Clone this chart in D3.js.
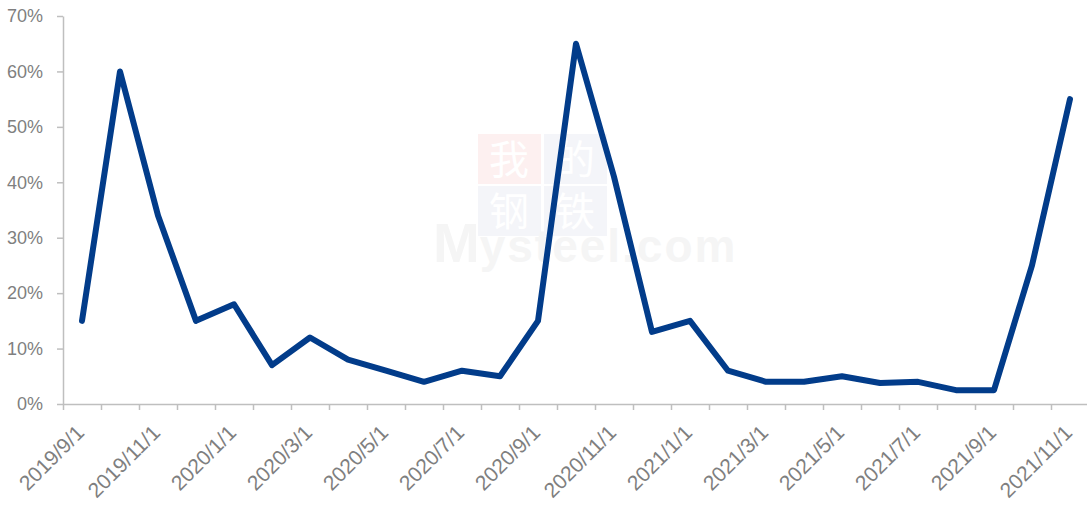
<!DOCTYPE html>
<html>
<head>
<meta charset="utf-8">
<script src="https://cdn.jsdelivr.net/npm/d3@7"></script>
<style>
	body { margin: 0; background: #fff; }
	svg { display: block; font-family: "Liberation Sans", Arial, sans-serif; }
	.axis text { fill: #7f7f7f; font-size: 18px; }
	.axis.x text { font-size: 21px; }
	.axis path, .axis line { stroke: #bfbfbf; stroke-width: 1.5; }
</style>
</head>
<body>
<svg id="chart" width="1087" height="510"></svg>
<script>
// monthly categories (first day of each month)
var months = ["2019/9/1", "2019/10/1", "2019/11/1", "2019/12/1",
	"2020/1/1", "2020/2/1", "2020/3/1", "2020/4/1", "2020/5/1", "2020/6/1",
	"2020/7/1", "2020/8/1", "2020/9/1", "2020/10/1", "2020/11/1", "2020/12/1",
	"2021/1/1", "2021/2/1", "2021/3/1", "2021/4/1", "2021/5/1", "2021/6/1",
	"2021/7/1", "2021/8/1", "2021/9/1", "2021/10/1", "2021/11/1"];

// series values, in percent
var values = [15, 60, 34, 15, 18, 7, 12, 8, 6, 4, 6, 5, 15, 65, 41, 13,
	15, 6, 4, 4, 5, 3.8, 4, 2.5, 2.5, 25, 55];

var yTicks = [0, 0.1, 0.2, 0.3, 0.4, 0.5, 0.6, 0.7];

var svg = d3.select("#chart");

var plot = { left: 63, right: 1089, top: 16, bottom: 404 };

// x is a month index: ticks on the month boundaries, points in the middle
var x = d3.scaleLinear()
	.domain([0, months.length])
	.range([plot.left, plot.right]);

var y = d3.scaleLinear()
	.domain([0, 0.7])
	.range([plot.bottom, plot.top]);

// faint watermark behind the chart
var wm = svg.append("g").attr("class", "watermark");
var squares = [
	{ ch: "我", col: 0, row: 0, fill: "#fdf0f0" },
	{ ch: "的", col: 1, row: 0, fill: "#f4f5f9" },
	{ ch: "钢", col: 0, row: 1, fill: "#f4f5f9" },
	{ ch: "铁", col: 1, row: 1, fill: "#f4f5f9" }
];
squares.forEach(function(s) {
	var sx = 478 + s.col * 66, sy = 134 + s.row * 52;
	wm.append("rect").attr("x", sx).attr("y", sy).attr("width", 63).attr("height", 50).attr("fill", s.fill);
	wm.append("text").attr("x", sx + 31).attr("y", sy + 40)
		.attr("text-anchor", "middle")
		.style("font-family", "'Noto Sans CJK SC', sans-serif")
		.style("font-size", "40px")
		.attr("fill", "#ffffff")
		.text(s.ch);
});
wm.append("text").attr("x", 433).attr("y", 262)
	.style("font-family", "'Liberation Sans', Arial, sans-serif")
	.style("font-weight", "bold")
	.attr("fill", "#f5f5f5")
	.html("<tspan style='font-size:56px'>M</tspan><tspan style='font-size:46px' letter-spacing='2'>ysteel.com</tspan>");

// y axis
var yAxis = svg.append("g")
	.attr("class", "axis y")
	.attr("transform", "translate(" + plot.left + ",0)")
	.call(d3.axisLeft(y)
		.tickValues(yTicks)
		.tickSize(6)
		.tickSizeOuter(0)
		.tickPadding(14)
		.tickFormat(d3.format(".0%")));

// x axis, every month ticked, every other month labelled
var xAxis = svg.append("g")
	.attr("class", "axis x")
	.attr("transform", "translate(0," + plot.bottom + ")")
	.call(d3.axisBottom(x)
		.tickValues(d3.range(0, months.length + 1))
		.tickSize(6)
		.tickSizeOuter(0)
		.tickFormat(function(i) { return (i % 2 == 0 && months[i]) ? months[i] : ""; }));

xAxis.selectAll(".tick text")
	.attr("text-anchor", "end")
	.attr("dy", null)
	.attr("y", 0)
	.attr("transform", "translate(22,30) rotate(-45)");

// the line itself
var line = d3.line()
	.x(function(d, i) { return x(i + 0.5); })
	.y(function(d) { return y(d / 100); });

svg.append("path")
	.datum(values)
	.attr("fill", "none")
	.attr("stroke", "#023c8a")
	.attr("stroke-width", 6)
	.attr("stroke-linejoin", "round")
	.attr("stroke-linecap", "round")
	.attr("d", line);
</script>
</body>
</html>
